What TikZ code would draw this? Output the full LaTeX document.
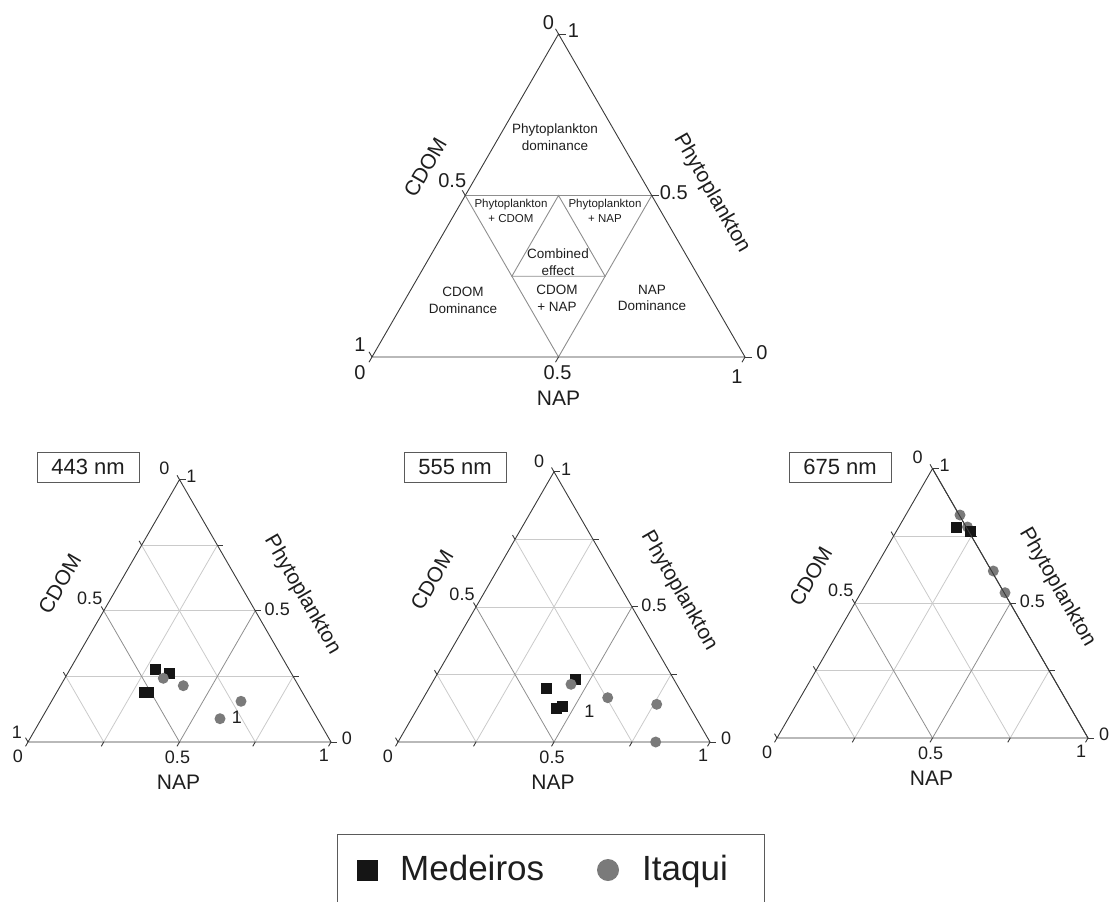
\documentclass[tikz,border=0pt]{standalone}
\usepackage{fontspec}
\setmainfont{Liberation Sans}
\usetikzlibrary{calc}
\definecolor{edgegray}{HTML}{3A3A3A}
\definecolor{midgray}{HTML}{8E8E8E}
\definecolor{lightgray2}{HTML}{CACACA}
\definecolor{textgray}{HTML}{1E1E1E}
\definecolor{boxgray}{HTML}{5A5A5A}
\definecolor{dotgray}{HTML}{7A7A7A}
\definecolor{sqblack}{HTML}{151515}
\tikzset{axisedge/.style={draw=edgegray, line width=0.9pt}}
\tikzset{topinner/.style={draw=midgray, line width=0.9pt}}
\tikzset{gridmid/.style={draw=midgray, line width=0.8pt}}
\tikzset{gridlight/.style={draw=lightgray2, line width=0.8pt}}
\tikzset{ticknum/.style={font=\fontsize{18}{20}\selectfont, inner sep=0pt, text=textgray}}
\tikzset{topnum/.style={font=\fontsize{20}{22}\selectfont, inner sep=0pt, text=textgray}}
\tikzset{axistitle/.style={font=\fontsize{21}{24}\selectfont, inner sep=0pt, text=textgray}}
\tikzset{zonetext/.style={font=\fontsize{13.5}{16.7}\selectfont, align=center, inner sep=0pt, text=textgray}}
\tikzset{smallzone/.style={font=\fontsize{11.5}{15}\selectfont, align=center, inner sep=0pt, text=textgray}}
\tikzset{wavebox/.style={draw=boxgray, line width=0.8pt, minimum width=102pt, minimum height=30pt, inner sep=0pt, font=\fontsize{22}{24}\selectfont, text=textgray}}
\tikzset{medeiros/.style={rectangle, fill=sqblack, minimum size=11pt, inner sep=0pt}}
\tikzset{itaqui/.style={circle, fill=dotgray, minimum size=11pt, inner sep=0pt}}
\tikzset{legendfont/.style={font=\fontsize{35}{38}\selectfont, inner sep=0pt, text=textgray}}

\begin{document}
\begin{tikzpicture}[x=1pt,y=-1pt]
    \useasboundingbox (0,0) rectangle (1111,902);

    % Top triangle
    \coordinate (t-L) at (372,357);
    \coordinate (t-R) at (745,357);
    \coordinate (t-A) at (558.5,34);
    \coordinate (t-ml) at ($(t-L)!0.5!(t-A)$);
    \coordinate (t-mr) at ($(t-R)!0.5!(t-A)$);
    \coordinate (t-mb) at ($(t-L)!0.5!(t-R)$);
    \draw [topinner] (t-ml) -- (t-mr) -- (t-mb) -- cycle;
    \draw [topinner] ($(t-ml)!0.5!(t-mr)$) -- ($(t-mr)!0.5!(t-mb)$) -- ($(t-mb)!0.5!(t-ml)$) -- cycle;
    \draw [axisedge] (t-L) -- (t-R) -- (t-A) -- cycle;
    \foreach \t in {0,0.5,1} {
        \draw [axisedge] ($(t-L)!\t!(t-R)$) -- ++(240:6pt);
        \draw [axisedge] ($(t-R)!\t!(t-A)$) -- ++(0:7pt);
        \draw [axisedge] ($(t-L)!\t!(t-A)$) -- ++(120:6pt);
    }

    % Top labels
    \node [topnum] (t-apex0) at ($(t-A) + (-10,-11)$) {0};
    \node [topnum] (t-apex1) at ($(t-A) + (15,-3)$) {1};
    \node [topnum] (t-left1) at ($(t-L) + (-12,-12)$) {1};
    \node [topnum] (t-left0) at ($(t-L) + (-12,16)$) {0};
    \node [topnum] (t-right0) at ($(t-R) + (17,-4)$) {0};
    \node [topnum] (t-right1) at ($(t-R) + (-8,20)$) {1};
    \node [topnum] (t-bot05) at ($(t-mb) + (-1,16)$) {0.5};
    \node [topnum] (t-left05) at ($(t-ml) + (-13,-15)$) {0.5};
    \node [topnum] (t-right05) at ($(t-mr) + (22,-3)$) {0.5};
    \node [axistitle] (t-nap) at ($(t-mb) + (0,41)$) {NAP};
    \node [axistitle, rotate=60] (t-cdom) at ($(t-ml) + (-40,-28)$) {CDOM};
    \node [axistitle, rotate=-60] (t-phyto) at ($(t-mr) + (60,-2)$) {Phytoplankton};

    % Zones
    \node [zonetext] (z-phyto) at (555,137) {Phytoplankton\\dominance};
    \node [smallzone] (z-phcdom) at (511,211) {Phytoplankton\\+ CDOM};
    \node [smallzone] (z-phnap) at (605,211) {Phytoplankton\\+ NAP};
    \node [zonetext] (z-comb) at (558,262) {Combined\\effect};
    \node [zonetext] (z-cdnap) at (557,298) {CDOM\\+ NAP};
    \node [zonetext] (z-cdom) at (463,300) {CDOM\\Dominance};
    \node [zonetext] (z-nap) at (652,298) {NAP\\Dominance};

    % Bottom triangles
    \foreach \p/\x/\y/\w in {a/28/742/303, b/398/742/312, c/777/738/311} {
        \coordinate (\p-L) at (\x,\y);
        \coordinate (\p-R) at (\x+\w,\y);
        \coordinate (\p-A) at (\x+0.5*\w,\y-0.866*\w);
        \coordinate (\p-ml) at ($(\p-L)!0.5!(\p-A)$);
        \coordinate (\p-mr) at ($(\p-R)!0.5!(\p-A)$);
        \coordinate (\p-mb) at ($(\p-L)!0.5!(\p-R)$);
        \foreach \t in {0.25,0.5,0.75}
            \draw [gridlight] ($(\p-L)!\t!(\p-A)$) -- ($(\p-R)!\t!(\p-A)$);
        \foreach \t/\g in {0.25/gridlight, 0.75/gridlight, 0.5/gridmid} {
            \draw [\g] ($(\p-L)!\t!(\p-A)$) -- ($(\p-L)!\t!(\p-R)$);
            \draw [\g] ($(\p-R)!\t!(\p-A)$) -- ($(\p-R)!\t!(\p-L)$);
        }
        \draw [axisedge] (\p-L) -- (\p-R) -- (\p-A) -- cycle;
        \foreach \t in {0,0.25,0.5,0.75,1} {
            \draw [axisedge] ($(\p-L)!\t!(\p-R)$) -- ++(240:5pt);
            \draw [axisedge] ($(\p-R)!\t!(\p-A)$) -- ++(0:6pt);
            \draw [axisedge] ($(\p-L)!\t!(\p-A)$) -- ++(120:5pt);
        }
        \node [ticknum] (\p-apex0) at ($(\p-A) + (-15,-11)$) {0};
        \node [ticknum] (\p-apex1) at ($(\p-A) + (12,-3)$) {1};
        \node [ticknum] (\p-left0) at ($(\p-L) + (-10,14)$) {0};
        \node [ticknum] (\p-right0) at ($(\p-R) + (16,-4)$) {0};
        \node [ticknum] (\p-right1) at ($(\p-R) + (-7,13)$) {1};
        \node [ticknum] (\p-bot05) at ($(\p-mb) + (-2,15)$) {0.5};
        \node [ticknum] (\p-left05) at ($(\p-ml) + (-14,-13)$) {0.5};
        \node [ticknum] (\p-right05) at ($(\p-mr) + (22,-2)$) {0.5};
        \node [axistitle] (\p-nap) at ($(\p-mb) + (-1,40)$) {NAP};
        \node [axistitle, rotate=60] (\p-cdom) at ($(\p-ml) + (-44,-27)$) {CDOM};
        \node [axistitle, rotate=-60] (\p-phyto) at ($(\p-mr) + (47,-16)$) {Phytoplankton};
    }
    \node [ticknum] (a-left1) at ($(a-L) + (-11,-10)$) {1};

    % Wavelength boxes
    \node [wavebox] (a-title) at (88,467) {443 nm};
    \node [wavebox] (b-title) at (455,467) {555 nm};
    \node [wavebox] (c-title) at (840,467) {675 nm};

    % 443 nm data
    \node [medeiros] (a-m1) at (155.7,669) {};
    \node [medeiros] (a-m2) at (169.3,673.3) {};
    \node [medeiros] (a-m3) at (144,692) {};
    \node [medeiros] (a-m4) at (148,692) {};
    \node [itaqui] (a-i1) at (163.3,678.3) {};
    \node [itaqui] (a-i2) at (183.3,685.7) {};
    \node [itaqui] (a-i3) at (241,701.3) {};
    \node [itaqui] (a-i4) at (220,718.7) {};
    \node [ticknum] (a-one) at (237,717.7) {1};

    % 555 nm data
    \node [medeiros] (b-m1) at (546.7,688.3) {};
    \node [medeiros] (b-m2) at (575,679.3) {};
    \node [medeiros] (b-m3) at (556.7,708.3) {};
    \node [medeiros] (b-m4) at (562.3,706.7) {};
    \node [itaqui] (b-i1) at (571,684.3) {};
    \node [itaqui] (b-i2) at (607.7,697.7) {};
    \node [itaqui] (b-i3) at (656.7,704.3) {};
    \node [itaqui] (b-i4) at (655.7,742) {};
    \node [ticknum] (b-one) at (589.3,711.7) {1};

    % 675 nm data
    \node [itaqui] (c-i1) at (960,515) {};
    \node [itaqui] (c-i2) at (967.5,527) {};
    \node [itaqui] (c-i3) at (993.3,571) {};
    \node [itaqui] (c-i4) at (1005,592.7) {};
    \node [medeiros] (c-m1) at (956,527.7) {};
    \node [medeiros] (c-m2) at (970,531) {};
    \draw [axisedge] (c-R) -- (c-A);

    % Legend
    \draw [draw=boxgray, line width=0.9pt] (337,902) |- (764,834) -- (764,902);
    \node [medeiros, minimum size=21pt] (leg-m) at (367,870) {};
    \node [legendfont, anchor=base west] (leg-mt) at (400,880) {Medeiros};
    \node [itaqui, minimum size=22pt] (leg-i) at (608,870) {};
    \node [legendfont, anchor=base west] (leg-it) at (642,880) {Itaqui};

\end{tikzpicture}
\end{document}
